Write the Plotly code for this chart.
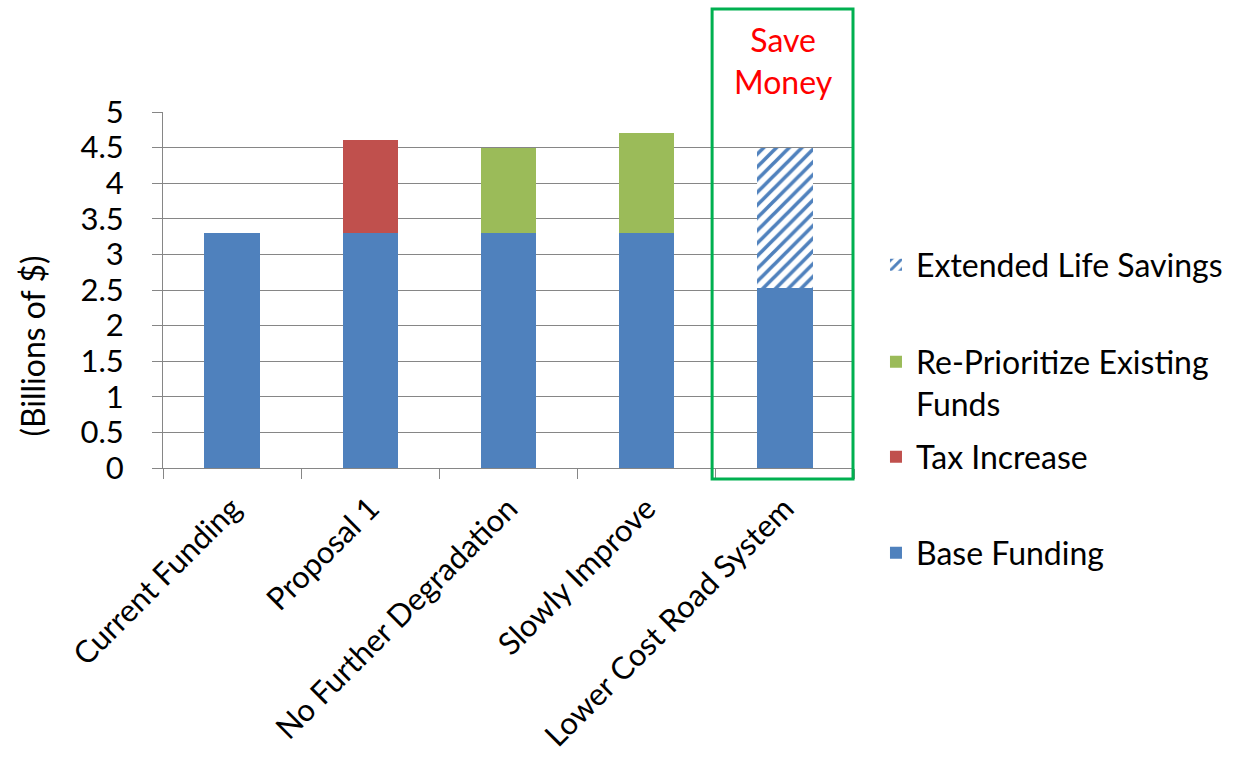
import plotly.graph_objects as go

categories = ["Current Funding", "Proposal 1", "No Further Degradation",
              "Slowly Improve", "Lower Cost Road System"]
base_funding = [3.3, 3.3, 3.3, 3.3, 2.53]
tax_increase = [0, 1.3, 0, 0, 0]
reprioritize = [0, 0, 1.2, 1.4, 0]
extended_life = [0, 0, 0, 0, 1.97]
y_ticks = [0, 0.5, 1, 1.5, 2, 2.5, 3, 3.5, 4, 4.5, 5]

FONT = "Lato"
BLUE = "#4F81BD"
RED = "#C0504D"
GREEN = "#9BBB59"
GRID = "#868686"

L, R, T, B = 162.5, 380, 112, 293
W, H = 1234, 761
pw = W - L - R
ph = H - T - B

def px_x(x):
    return (x - L) / pw

def px_y(y):
    return (H - B - y) / ph

fig = go.Figure()
fig.add_trace(go.Bar(x=categories, y=base_funding, name="Base Funding",
                     marker=dict(color=BLUE, line=dict(width=0)), legend="legend4"))
fig.add_trace(go.Bar(x=categories, y=tax_increase, name="Tax Increase",
                     marker=dict(color=RED, line=dict(width=0)), legend="legend3"))
fig.add_trace(go.Bar(x=categories, y=reprioritize, name="Re-Prioritize Existing<br>Funds",
                     marker=dict(color=GREEN, line=dict(width=0)), legend="legend2"))
fig.add_trace(go.Bar(x=categories, y=extended_life, name="Extended Life Savings",
                     marker=dict(color="white", line=dict(width=0),
                                 pattern=dict(shape="/", fgcolor=BLUE, bgcolor="white",
                                              size=9, solidity=0.4, fillmode="replace")),
                     legend="legend"))

leg_font = dict(family=FONT, size=32, color="black")
lx = px_x(876)

def leg(ycenter, valign="middle"):
    return dict(x=lx, xanchor="left", y=px_y(ycenter), yanchor="middle",
                font=leg_font, bgcolor="rgba(0,0,0,0)", borderwidth=0,
                valign=valign, itemclick=False, itemdoubleclick=False)

fig.update_layout(
    width=W, height=H,
    margin=dict(l=L, r=R, t=T, b=B, autoexpand=False),
    paper_bgcolor="white", plot_bgcolor="white",
    barmode="stack", bargap=0.6,
    font=dict(family=FONT, color="black"),
    showlegend=True,
    legend=leg(265),
    legend2=leg(383, "top"),
    legend3=leg(457),
    legend4=leg(553),
    xaxis=dict(
        type="category", categoryorder="array", categoryarray=categories,
        showline=True, linecolor=GRID, linewidth=1,
        ticks="outside", tickson="boundaries", ticklen=10, tickcolor=GRID,
        ticklabelstandoff=9,
        tickangle=-45, tickfont=dict(family=FONT, size=31, color="black"),
        showgrid=False, automargin=False,
    ),
    yaxis=dict(
        range=[0, 5], tickvals=y_ticks, ticktext=[f"{v:g}" for v in y_ticks],
        showline=True, linecolor=GRID, linewidth=1,
        ticks="outside", ticklen=10, tickcolor=GRID,
        ticklabelstandoff=22,
        showgrid=True, gridcolor=GRID, gridwidth=1,
        zeroline=False,
        tickfont=dict(family=FONT, size=31, color="black"),
        automargin=False,
    ),
)

fig.add_annotation(text="(Billions of $)", textangle=-90, xref="paper", yref="paper",
                   x=px_x(31), y=px_y(346), xanchor="center", yanchor="middle",
                   showarrow=False, font=dict(family=FONT, size=32, color="black"))

fig.add_annotation(text="Save<br>Money", xref="paper", yref="paper",
                   x=px_x(783), y=px_y(60), xanchor="center", yanchor="middle",
                   showarrow=False, font=dict(family=FONT, size=32, color="#FF0000"))

fig.add_shape(type="rect", xref="paper", yref="paper",
              x0=px_x(712), x1=px_x(853), y0=px_y(479), y1=px_y(9),
              line=dict(color="#00B050", width=3), fillcolor="rgba(0,0,0,0)")

fig.write_html("out.html")
